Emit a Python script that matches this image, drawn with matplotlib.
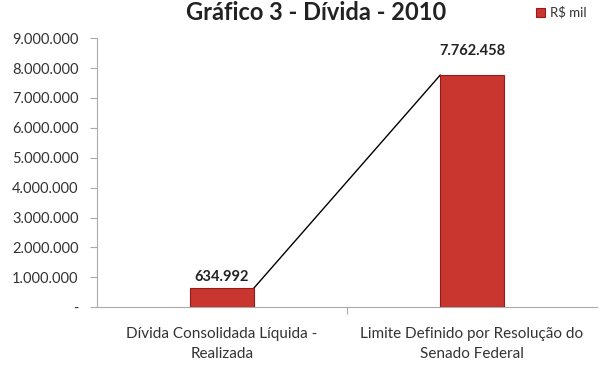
import matplotlib.pyplot as plt
from matplotlib.ticker import FuncFormatter

categorias = ["Dívida Consolidada Líquida -\nRealizada",
              "Limite Definido por Resolução do\nSenado Federal"]
valores = [634992, 7762458]
rotulos = ["634.992", "7.762.458"]
yticks = [0, 1000000, 2000000, 3000000, 4000000, 5000000, 6000000, 7000000, 8000000, 9000000]

plt.rcParams['font.family'] = ['Lato', 'DejaVu Sans']

def fmt(v, pos):
    if v == 0:
        return "-"
    return "{:,.0f}".format(v).replace(",", ".")

fig = plt.figure(figsize=(6.05, 3.67), dpi=100)
ax = fig.add_axes([0.160, 0.163, 0.827, 0.733])

largura = 0.255
x = list(range(len(valores)))
barras = ax.bar(x, valores, width=largura, color="#C9352F", edgecolor="#961C1A",
                linewidth=0.8, label="R$ mil", zorder=3)

# linha de serie ligando as barras
ax.plot([x[0] + largura / 2, x[1] - largura / 2], valores, color="black", lw=1, zorder=2)

offsets = [130000, 560000]
for xi, v, r, off in zip(x, valores, rotulos, offsets):
    ax.text(xi, v + off, r, ha="center", va="bottom", fontsize=10.5,
            fontweight="bold", color="#222222")

ax.set_xlim(-0.5, 1.5)
ax.set_ylim(0, 9000000)
ax.set_yticks(yticks)
ax.yaxis.set_major_formatter(FuncFormatter(fmt))
ax.set_xticks([0.5], minor=False)
ax.set_xticklabels([""])
ax.set_xticks(x, minor=True)
ax.set_xticklabels(categorias, minor=True, fontsize=11, color="#333333", linespacing=1.55)
ax.tick_params(axis="x", which="minor", length=0, pad=14)
ax.tick_params(axis="x", which="major", length=5, color="#AAAAAA")
ax.tick_params(axis="y", length=5, color="#AAAAAA", labelsize=10.5, labelcolor="#333333", pad=8)

for s in ["top", "right"]:
    ax.spines[s].set_visible(False)
for s in ["left", "bottom"]:
    ax.spines[s].set_color("#AAAAAA")

fig.text(0.523, 0.998, "Gráfico 3 - Dívida - 2010", ha="center", va="top",
         fontsize=17, fontweight="bold", color="#222222")

fig.legend(handles=[barras], labels=["R$ mil"], loc="upper right",
           bbox_to_anchor=(0.99, 1.015), frameon=False, fontsize=9.5,
           handlelength=0.7, handleheight=0.7, handletextpad=0.4, labelcolor="#333333")

fig.savefig("out.png", dpi=100)
